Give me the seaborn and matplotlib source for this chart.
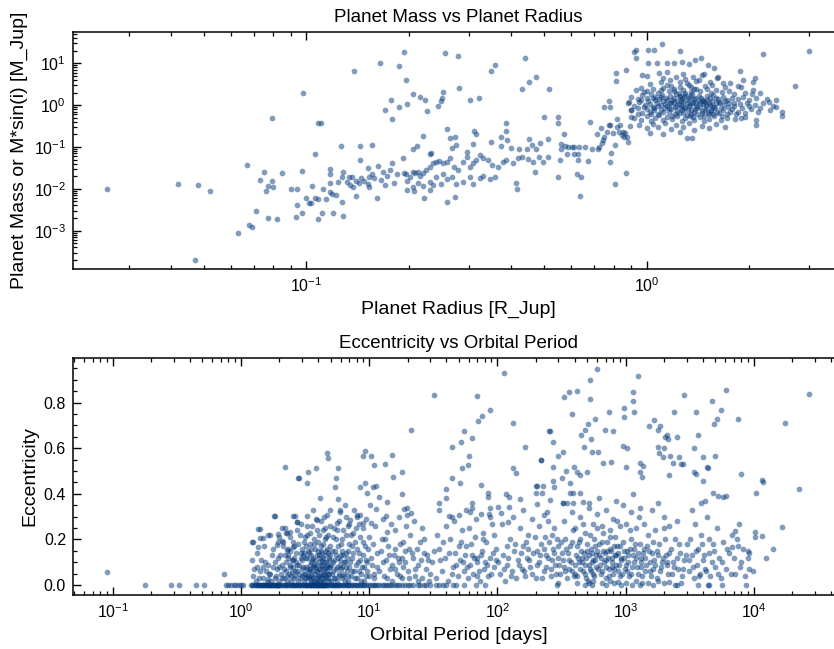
import numpy as np
import pandas as pd
import matplotlib
matplotlib.use("Agg")
import matplotlib.pyplot as plt
import seaborn as sns
from matplotlib.ticker import LogLocator, FixedLocator, MultipleLocator, NullFormatter, FormatStrFormatter

# ---------------- Data: planet radius [R_Jup] vs mass [M_Jup] ----------------
small_planets = [(0.026, 0.0098), (0.042, 0.0132), (0.048, 0.0125), (0.052, 0.0091), (0.047, 0.0002),
                 (0.063, 0.00087), (0.067, 0.037), (0.068, 0.00135), (0.069, 0.00123), (0.071, 0.003),
                 (0.073, 0.016), (0.075, 0.025), (0.076, 0.0087), (0.077, 0.0116), (0.077, 0.002),
                 (0.079, 0.49), (0.079, 0.0155), (0.080, 0.0112), (0.082, 0.0019), (0.085, 0.0245),
                 (0.090, 0.010), (0.093, 0.0021), (0.094, 0.0098), (0.094, 0.0042)]

dense_small_radius = [(0.194, 18.3), (0.255, 17.6), (0.279, 15.2), (0.438, 13.4), (0.164, 10), (0.187, 8.5),
                      (0.358, 9), (0.349, 6.5), (0.138, 6.7), (0.196, 3.9), (0.474, 4.6), (0.451, 3.6),
                      (0.43, 2.5), (0.28, 2.6), (0.515, 2.4), (0.252, 2.1), (0.098, 1.98), (0.205, 1.84),
                      (0.215, 1.54), (0.223, 1.35), (0.25, 1.46), (0.248, 1.26), (0.303, 1.3), (0.322, 1.46),
                      (0.177, 1.32), (0.244, 0.95), (0.187, 0.9), (0.197, 1.06), (0.17, 0.76), (0.226, 0.71),
                      (0.179, 0.48), (0.5, 0.52), (0.108, 0.367), (0.110, 0.367)]

neptunes_upper = [(0.258, 0.268), (0.386, 0.367), (0.387, 0.244), (0.311, 0.24), (0.314, 0.2), (0.372, 0.17),
                  (0.389, 0.146), (0.45, 0.152), (0.513, 0.155), (0.22, 0.182), (0.265, 0.163), (0.274, 0.17),
                  (0.126, 0.105), (0.144, 0.107), (0.156, 0.109), (0.106, 0.068), (0.205, 0.089), (0.212, 0.105),
                  (0.23, 0.068), (0.233, 0.07), (0.267, 0.093), (0.275, 0.113), (0.308, 0.115), (0.296, 0.074),
                  (0.348, 0.129), (0.372, 0.107), (0.398, 0.093), (0.42, 0.091), (0.444, 0.088), (0.472, 0.089),
                  (0.46, 0.109), (0.486, 0.122)]

superearths = [(0.097, 0.0265), (0.097, 0.0026), (0.1, 0.0059), (0.102, 0.0046), (0.106, 0.0059), (0.108, 0.0056),
               (0.114, 0.0056), (0.103, 0.0047), (0.111, 0.0026), (0.108, 0.0019), (0.120, 0.0027), (0.128, 0.0023),
               (0.104, 0.0115), (0.112, 0.0098), (0.117, 0.0082), (0.122, 0.0071), (0.119, 0.0075), (0.117, 0.0139),
               (0.117, 0.0225), (0.117, 0.0291), (0.124, 0.0142), (0.127, 0.0048), (0.132, 0.0147), (0.134, 0.0123),
               (0.137, 0.0108), (0.14, 0.0068), (0.133, 0.0194), (0.14, 0.0155), (0.143, 0.0139), (0.145, 0.018),
               (0.148, 0.0155), (0.152, 0.0129), (0.153, 0.0194), (0.153, 0.0112), (0.156, 0.0225), (0.161, 0.0059),
               (0.162, 0.0349), (0.158, 0.0177), (0.166, 0.0162), (0.17, 0.0123), (0.172, 0.0205), (0.176, 0.028),
               (0.178, 0.0405), (0.181, 0.0139), (0.184, 0.0225), (0.168, 0.0247), (0.152, 0.0308), (0.144, 0.0487),
               (0.136, 0.0194), (0.127, 0.0194), (0.128, 0.0255), (0.192, 0.0533)]

neptune_band = [(0.193, 0.0233), (0.196, 0.0225), (0.201, 0.0194), (0.206, 0.0255), (0.209, 0.0233), (0.213, 0.0255),
                (0.215, 0.0205), (0.220, 0.0233), (0.225, 0.028), (0.231, 0.0336), (0.236, 0.0404), (0.241, 0.0443),
                (0.246, 0.0468), (0.252, 0.0404), (0.258, 0.0443), (0.264, 0.0532), (0.271, 0.0324), (0.279, 0.028),
                (0.289, 0.0443), (0.297, 0.0583), (0.302, 0.0336), (0.309, 0.0404), (0.316, 0.0484), (0.323, 0.0637),
                (0.331, 0.0532), (0.342, 0.0484), (0.352, 0.0367), (0.366, 0.0324), (0.379, 0.0443), (0.387, 0.0484),
                (0.405, 0.0419), (0.419, 0.0532), (0.431, 0.0583), (0.449, 0.0513), (0.464, 0.0443), (0.483, 0.0564),
                (0.496, 0.0443), (0.514, 0.0583),
                (0.197, 0.0156), (0.206, 0.0112), (0.213, 0.0139), (0.220, 0.0117), (0.231, 0.0148), (0.241, 0.0194),
                (0.249, 0.0134), (0.258, 0.0168), (0.267, 0.0194), (0.276, 0.0127), (0.289, 0.0148), (0.302, 0.0194),
                (0.309, 0.0134), (0.323, 0.0177), (0.331, 0.0205), (0.346, 0.0168), (0.359, 0.0194), (0.197, 0.0093),
                (0.207, 0.009), (0.231, 0.0093), (0.222, 0.0059), (0.259, 0.0049), (0.274, 0.0064), (0.412, 0.0139),
                (0.415, 0.0097), (0.469, 0.0251), (0.252, 0.0221), (0.236, 0.0122)]

saturns = [(0.55, 0.51), (0.55, 0.37), (0.57, 0.21), (0.56, 0.117), (0.56, 0.089), (0.575, 0.105), (0.555, 0.0487),
           (0.55, 0.0194), (0.587, 0.101), (0.604, 0.098), (0.61, 0.101), (0.632, 0.101), (0.582, 0.0676),
           (0.612, 0.068), (0.628, 0.068), (0.63, 0.05), (0.67, 0.047), (0.659, 0.101), (0.689, 0.092), (0.682, 0.40),
           (0.625, 0.0229), (0.64, 0.0187), (0.635, 0.0067), (0.726, 0.101), (0.721, 0.088), (0.745, 0.146),
           (0.734, 0.279), (0.749, 0.175), (0.766, 0.231), (0.78, 0.34), (0.773, 0.329), (0.749, 0.92), (0.78, 0.89),
           (0.775, 1.27), (0.787, 0.073), (0.78, 0.044), (0.805, 0.111), (0.807, 0.0127), (0.82, 0.48), (0.834, 0.334),
           (0.849, 0.231), (0.863, 0.211), (0.873, 0.175), (0.883, 0.133), (0.893, 0.316), (0.901, 0.51), (0.9, 0.76),
           (0.887, 1.2), (0.869, 0.024), (0.855, 0.17), (0.845, 0.193), (0.819, 0.294), (0.797, 0.219), (0.83, 0.231),
           (0.713, 0.204), (0.737, 0.122)]

massive_jupiters = [(1.11, 29), (1.01, 20.8), (1.05, 20.8), (0.93, 20.8), (0.92, 19), (1.25, 19.7), (3.0, 19.4),
                    (2.2, 16.4), (0.93, 13.2), (1.01, 10.3), (1.07, 10.3), (1.15, 10), (1.2, 10), (1.27, 10.9),
                    (1.33, 9.6), (1.39, 12), (1.44, 13.2), (1.51, 9.1), (1.58, 7.6), (0.87, 6.9), (0.81, 5.8),
                    (0.81, 3.7), (0.97, 5.2), (1.0, 5.0), (1.09, 5.8), (1.15, 6.3), (1.12, 4.4), (1.17, 4.0),
                    (1.22, 4.8), (1.28, 5.5), (1.31, 3.3), (1.37, 4.8), (1.42, 4.0), (1.47, 5.5), (1.53, 3.6),
                    (1.61, 4.4), (1.68, 3.4), (1.76, 3.3), (1.88, 6.7), (1.92, 4.0), (2.05, 3.6), (2.08, 4.4),
                    (1.89, 2.75), (2.04, 1.9), (2.73, 2.9), (2.09, 0.33), (1.89, 0.5)]

hot_jupiters = [(1.02, 3.2), (1.10, 3.6), (1.18, 2.9), (1.25, 3.5), (1.33, 3.0), (1.40, 3.8), (1.48, 2.8), (1.56, 3.1),
                (1.70, 2.7), (1.85, 2.9), (0.96, 2.6), (1.30, 4.2), (1.62, 4.6), (1.45, 5.2),
                (0.93, 2.3), (0.98, 2.1), (1.04, 2.4), (1.08, 2.0), (1.12, 2.6), (1.16, 2.2), (1.20, 2.5), (1.24, 2.0),
                (1.28, 2.3), (1.35, 2.1), (1.38, 2.5), (1.43, 2.2), (1.50, 2.4), (1.55, 2.0), (1.60, 2.3), (1.66, 2.1),
                (1.75, 2.2), (1.80, 1.9), (1.95, 2.0), (2.05, 2.3), (2.15, 2.0),
                (0.90, 1.6), (0.94, 1.4), (0.97, 1.8), (1.00, 1.5), (1.03, 1.9), (1.06, 1.6), (1.09, 1.4), (1.11, 1.8),
                (1.14, 1.5), (1.17, 1.7), (1.19, 1.35), (1.22, 1.9), (1.25, 1.55), (1.27, 1.4), (1.30, 1.75),
                (1.33, 1.5), (1.36, 1.85), (1.39, 1.45), (1.42, 1.65), (1.46, 1.35), (1.50, 1.7), (1.53, 1.5),
                (1.57, 1.8), (1.62, 1.4), (1.68, 1.6), (1.72, 1.35), (1.78, 1.5), (1.85, 1.4), (1.92, 1.6), (2.0, 1.3),
                (2.1, 1.5), (2.25, 1.4), (2.4, 1.3),
                (0.88, 1.1), (0.92, 0.95), (0.95, 1.2), (0.99, 1.0), (1.01, 1.25), (1.04, 0.92), (1.07, 1.15),
                (1.10, 1.0), (1.12, 1.28), (1.15, 0.95), (1.17, 1.1), (1.20, 1.2), (1.22, 0.98), (1.24, 1.05),
                (1.26, 1.25), (1.29, 0.93), (1.31, 1.12), (1.34, 1.0), (1.37, 1.2), (1.40, 0.96), (1.43, 1.1),
                (1.46, 1.25), (1.49, 1.0), (1.52, 1.15), (1.56, 0.95), (1.60, 1.1), (1.64, 1.2), (1.69, 1.0),
                (1.74, 1.12), (1.80, 0.95), (1.88, 1.05), (1.97, 1.15), (2.08, 1.0), (2.2, 1.1), (2.35, 0.95),
                (0.90, 0.75), (0.94, 0.85), (0.97, 0.65), (1.00, 0.8), (1.02, 0.7), (1.05, 0.88), (1.08, 0.62),
                (1.10, 0.75), (1.13, 0.85), (1.16, 0.68), (1.18, 0.8), (1.21, 0.6), (1.23, 0.72), (1.26, 0.85),
                (1.28, 0.65), (1.32, 0.78), (1.35, 0.62), (1.38, 0.7), (1.41, 0.85), (1.45, 0.66), (1.48, 0.78),
                (1.52, 0.6), (1.55, 0.72), (1.59, 0.85), (1.63, 0.66), (1.67, 0.76), (1.72, 0.62), (1.78, 0.8),
                (1.86, 0.7), (1.94, 0.65), (2.02, 0.8), (2.12, 0.7), (2.3, 0.75), (2.5, 0.68),
                (0.92, 0.5), (0.96, 0.45), (1.00, 0.55), (1.03, 0.42), (1.06, 0.5), (1.09, 0.58), (1.12, 0.44),
                (1.15, 0.52), (1.19, 0.47), (1.23, 0.56), (1.27, 0.43), (1.30, 0.5), (1.34, 0.55), (1.38, 0.45),
                (1.43, 0.52), (1.47, 0.42), (1.52, 0.48), (1.58, 0.55), (1.65, 0.45), (1.72, 0.5), (1.82, 0.47),
                (1.95, 0.52), (2.1, 0.45), (2.5, 0.55),
                (0.95, 0.33), (1.00, 0.28), (1.04, 0.36), (1.08, 0.3), (1.13, 0.38), (1.18, 0.27), (1.22, 0.34),
                (1.28, 0.3), (1.33, 0.37), (1.38, 0.25), (1.45, 0.32), (1.52, 0.28), (1.60, 0.35), (1.70, 0.3),
                (1.02, 0.22), (1.12, 0.2), (1.25, 0.23), (1.31, 0.16), (1.36, 0.166)]

hot_jupiter_core = [(1.06, 1.3), (1.08, 0.95), (1.1, 1.6), (1.12, 0.7), (1.13, 1.05), (1.15, 1.35), (1.16, 0.85),
                    (1.18, 1.15), (1.19, 0.55), (1.2, 1.45), (1.21, 0.9), (1.23, 1.25), (1.24, 0.65), (1.25, 1.7),
                    (1.26, 1.0), (1.27, 0.78), (1.28, 1.2), (1.29, 1.55), (1.3, 0.88), (1.31, 0.58), (1.32, 1.3),
                    (1.33, 0.95), (1.34, 1.65), (1.35, 0.75), (1.36, 1.1), (1.37, 0.52), (1.38, 1.4), (1.39, 0.82),
                    (1.4, 1.15), (1.41, 0.62), (1.42, 1.28), (1.43, 0.9), (1.44, 1.5), (1.45, 0.72), (1.46, 1.05),
                    (1.47, 0.56), (1.48, 1.2), (1.49, 0.85), (1.5, 1.35), (1.51, 0.65), (1.53, 1.0), (1.54, 0.78),
                    (1.56, 1.25), (1.57, 0.6), (1.58, 0.92), (1.6, 1.45), (1.61, 0.7), (1.63, 1.1), (1.65, 0.85),
                    (1.66, 0.55), (1.7, 1.25), (1.73, 0.9), (1.76, 0.7), (1.8, 1.15), (1.83, 0.6), (1.9, 0.85),
                    (2.0, 0.95), (2.15, 0.85), (2.28, 1.2), (2.4, 0.9), (1.02, 1.05), (1.03, 0.6), (1.04, 1.45),
                    (1.05, 0.78), (0.98, 0.9), (0.96, 1.35), (0.94, 0.62), (1.0, 2.2), (1.1, 2.3), (1.2, 2.2),
                    (1.3, 2.0), (1.4, 2.4), (1.25, 2.7), (1.15, 3.1), (1.35, 2.75)]

# ---------------- Data: orbital period [days] vs eccentricity ----------------
circular_periods = [0.18, 0.283, 0.328, 0.45, 0.52, 0.77, 0.8, 0.84, 0.88, 0.92, 0.96, 1.0, 1.04, 1.2, 1.25, 1.3,
                    1.35, 1.4, 1.45, 1.5, 1.55, 1.6, 1.65, 1.7, 1.75, 1.8, 1.85, 1.9, 1.95, 2.0, 2.1, 2.2, 2.3, 2.4,
                    2.5, 2.6, 2.7, 2.8, 2.9, 3.0, 3.1, 3.2, 3.3, 3.4, 3.5, 3.6, 3.7, 3.8, 3.9, 4.0, 4.1, 4.2, 4.3,
                    4.4, 4.5, 4.6, 4.8, 5.0, 5.2, 5.4, 5.6, 5.8, 6.1, 6.4, 6.7, 7.0, 7.4, 7.8, 8.2, 8.7, 9.2, 9.8,
                    10.5, 11.2, 12, 13, 14, 15, 16.5, 18, 20, 22, 25, 28, 33, 38, 45, 55, 68, 80, 290, 544, 1116,
                    1295, 2430, 3690, 4365, 4450, 5620, 8690,
                    1.23, 1.28, 1.33, 1.38, 1.43, 1.48, 1.53, 1.58, 1.63, 1.68, 1.73, 1.78, 1.83, 1.88, 1.93, 1.98,
                    2.05, 2.15, 2.25, 2.35, 2.45, 2.55, 2.65, 2.75, 2.85, 2.95, 3.05, 3.15, 3.25, 3.35, 3.45, 3.55,
                    3.65, 3.75, 3.85, 3.95, 4.05, 4.15, 4.25, 4.35, 4.45, 4.55, 4.7, 4.9, 5.1, 5.3, 5.5, 5.7, 5.95,
                    6.25, 6.55, 6.85, 7.2, 7.6, 8.0, 8.5, 9.0, 9.5, 10.1, 10.9, 11.6, 12.5, 13.5, 14.5, 16, 17, 19,
                    21, 24, 27, 30, 35, 40, 48]

short_period = [(0.091, 0.058), (0.736, 0.048), (1.22, 0.19), (1.22, 0.11), (1.36, 0.244), (1.42, 0.208),
                (1.33, 0.079), (1.49, 0.079), (1.64, 0.219), (1.65, 0.05), (1.79, 0.08), (1.64, 0.028), (1.82, 0.304),
                (2.08, 0.249), (2.24, 0.227), (2.3, 0.154), (2.34, 0.132), (2.41, 0.088), (2.49, 0.058), (2.56, 0.11),
                (2.64, 0.303), (2.72, 0.278), (2.8, 0.468), (2.56, 0.168), (1.9, 0.176), (1.99, 0.212), (2.11, 0.194),
                (2.2, 0.516), (1.25, 0.04), (1.3, 0.02), (1.4, 0.06), (1.5, 0.03), (1.55, 0.1), (1.6, 0.015),
                (1.7, 0.05), (1.75, 0.13), (1.85, 0.03), (1.9, 0.07), (1.95, 0.12), (2.0, 0.02), (2.05, 0.05),
                (2.1, 0.09), (2.15, 0.03), (2.2, 0.13), (2.25, 0.06), (2.3, 0.02), (2.35, 0.16), (2.4, 0.08),
                (2.45, 0.04), (2.5, 0.11), (2.55, 0.19), (2.6, 0.03), (2.65, 0.06), (2.7, 0.14), (2.75, 0.09),
                (2.8, 0.02), (2.85, 0.05), (2.9, 0.22), (2.95, 0.12), (3.0, 0.04), (2.2, 0.25), (2.4, 0.21),
                (2.6, 0.17), (2.75, 0.24), (1.41, 0.244), (1.25, 0.19), (1.36, 0.168), (1.49, 0.205), (1.68, 0.219),
                (1.95, 0.222), (2.14, 0.19), (2.27, 0.229), (2.41, 0.234),
                (1.27, 0.07), (1.33, 0.14), (1.38, 0.03), (1.44, 0.11), (1.52, 0.17), (1.58, 0.06), (1.63, 0.09),
                (1.72, 0.02), (1.78, 0.16), (1.83, 0.1), (1.88, 0.04), (1.93, 0.19), (1.98, 0.08), (2.03, 0.13),
                (2.08, 0.03), (2.13, 0.17), (2.18, 0.07), (2.23, 0.1), (2.28, 0.04), (2.33, 0.12), (2.38, 0.05),
                (2.43, 0.15), (2.48, 0.02), (2.53, 0.08), (2.58, 0.12), (2.63, 0.04), (2.68, 0.1), (2.73, 0.06),
                (2.78, 0.18), (2.83, 0.09), (2.88, 0.03), (2.93, 0.14), (2.98, 0.07)]

warm_cloud = [(3.05, 0.08), (3.1, 0.02), (3.15, 0.05), (3.2, 0.12), (3.25, 0.03), (3.3, 0.07), (3.35, 0.15),
              (3.4, 0.04), (3.45, 0.09), (3.5, 0.02), (3.55, 0.06), (3.6, 0.11), (3.65, 0.03), (3.7, 0.18),
              (3.75, 0.05), (3.8, 0.08), (3.85, 0.02), (3.9, 0.13), (3.95, 0.06), (4.0, 0.04), (4.05, 0.1),
              (4.1, 0.02), (4.15, 0.07), (4.2, 0.15), (4.25, 0.03), (4.3, 0.09), (4.35, 0.05), (4.4, 0.12),
              (4.45, 0.02), (4.5, 0.07), (4.55, 0.2), (4.6, 0.04), (4.65, 0.1), (4.7, 0.06), (4.75, 0.03),
              (4.8, 0.14), (4.85, 0.08), (4.9, 0.05), (4.95, 0.17), (5.0, 0.02), (3.3, 0.22), (3.6, 0.26),
              (3.9, 0.24), (4.2, 0.28), (4.5, 0.25), (4.8, 0.22), (3.4, 0.14), (3.8, 0.16), (4.0, 0.19), (4.4, 0.18),
              (3.2, 0.17), (3.5, 0.1), (3.7, 0.09), (4.1, 0.13), (4.3, 0.11), (4.6, 0.15), (4.9, 0.11), (3.0, 0.16),
              (3.1, 0.19), (3.45, 0.03), (3.55, 0.01), (3.95, 0.01), (4.15, 0.015), (4.35, 0.01),
              (5.1, 0.05), (5.2, 0.1), (5.3, 0.03), (5.4, 0.15), (5.5, 0.07), (5.6, 0.02), (5.7, 0.12), (5.8, 0.05),
              (5.9, 0.09), (6.0, 0.18), (6.1, 0.03), (6.2, 0.08), (6.3, 0.13), (6.4, 0.04), (6.5, 0.1), (6.6, 0.22),
              (6.7, 0.06), (6.8, 0.02), (6.9, 0.15), (7.0, 0.08), (7.2, 0.04), (7.4, 0.12), (7.6, 0.06),
              (7.8, 0.19), (8.0, 0.03), (8.2, 0.1), (8.4, 0.14), (8.6, 0.05), (8.8, 0.08), (9.0, 0.25), (9.2, 0.02),
              (9.4, 0.11), (9.6, 0.06), (9.8, 0.16), (10.0, 0.04), (5.3, 0.25), (5.8, 0.28), (6.3, 0.24),
              (7.0, 0.27), (7.5, 0.23), (8.0, 0.3), (8.5, 0.21), (5.5, 0.2), (6.0, 0.13), (7.3, 0.17), (8.9, 0.19),
              (3.02, 0.11), (3.08, 0.05), (3.13, 0.14), (3.18, 0.03), (3.23, 0.08), (3.28, 0.12), (3.33, 0.04),
              (3.38, 0.06), (3.43, 0.18), (3.48, 0.07), (3.53, 0.13), (3.58, 0.04), (3.63, 0.08), (3.68, 0.12),
              (3.73, 0.02), (3.78, 0.11), (3.83, 0.06), (3.88, 0.09), (3.93, 0.03), (3.98, 0.15), (4.03, 0.07),
              (4.08, 0.04), (4.13, 0.12), (4.18, 0.05), (4.23, 0.09), (4.28, 0.14), (4.33, 0.03), (4.38, 0.07),
              (4.43, 0.1), (4.48, 0.05), (4.53, 0.13), (4.58, 0.08), (4.63, 0.03), (4.68, 0.16), (4.73, 0.09),
              (4.78, 0.05), (4.83, 0.12), (4.88, 0.02), (4.93, 0.08), (4.98, 0.13),
              (3.15, 0.21), (3.45, 0.23), (3.75, 0.2), (4.05, 0.22), (4.35, 0.24), (4.65, 0.21), (4.95, 0.26),
              (3.25, 0.26), (3.85, 0.29), (4.45, 0.3), (3.55, 0.16), (4.25, 0.17), (3.05, 0.13), (2.95, 0.27),
              (5.05, 0.09), (5.15, 0.15), (5.25, 0.06), (5.35, 0.11), (5.45, 0.03), (5.55, 0.13), (5.65, 0.08),
              (5.75, 0.17), (5.85, 0.04), (5.95, 0.11), (6.05, 0.07), (6.15, 0.15), (6.25, 0.05), (6.35, 0.1),
              (6.45, 0.02), (6.55, 0.14), (6.65, 0.08), (6.75, 0.12), (6.85, 0.04), (6.95, 0.18), (7.1, 0.1),
              (7.3, 0.06), (7.5, 0.14), (7.7, 0.03), (7.9, 0.09), (8.1, 0.16), (8.3, 0.06), (8.5, 0.11), (8.7, 0.02),
              (8.9, 0.13), (9.1, 0.08), (9.3, 0.17), (9.5, 0.04), (9.7, 0.1), (9.9, 0.21),
              (5.2, 0.21), (5.6, 0.24), (6.2, 0.2), (6.8, 0.26), (7.2, 0.22), (7.9, 0.25), (8.3, 0.27), (9.5, 0.29),
              (5.9, 0.32), (6.5, 0.35), (7.6, 0.33)]

mid_period = [(10.5, 0.09), (11, 0.03), (11.5, 0.14), (12, 0.06), (12.5, 0.2), (13, 0.04), (13.5, 0.11), (14, 0.17),
              (14.5, 0.07), (15, 0.02), (15.5, 0.13), (16, 0.24), (16.5, 0.05), (17, 0.1), (17.5, 0.18), (18, 0.03),
              (18.5, 0.08), (19, 0.15), (20, 0.06), (21, 0.22), (22, 0.12), (23, 0.04), (24, 0.09), (25, 0.19),
              (26, 0.03), (27, 0.14), (28, 0.07), (29, 0.11), (30, 0.05), (11.2, 0.26), (12.8, 0.29), (14.8, 0.27),
              (17, 0.3), (19.5, 0.26), (22.5, 0.28), (26, 0.25), (10.8, 0.18), (13.2, 0.2), (15.8, 0.07),
              (18.2, 0.12), (20.5, 0.16), (24, 0.02),
              (31, 0.1), (33, 0.03), (35, 0.16), (37, 0.06), (39, 0.12), (41, 0.02), (43, 0.2), (45, 0.08),
              (47, 0.14), (49, 0.04), (51, 0.11), (53, 0.24), (55, 0.06), (57, 0.17), (59, 0.03), (61, 0.09),
              (63, 0.13), (65, 0.05), (67, 0.21), (70, 0.1), (73, 0.02), (76, 0.15), (79, 0.07), (82, 0.19),
              (85, 0.04), (88, 0.12), (91, 0.27), (94, 0.08), (97, 0.16), (34, 0.22), (40, 0.26), (46, 0.28),
              (52, 0.19), (60, 0.25), (68, 0.29), (78, 0.23), (86, 0.31), (95, 0.22), (48, 0.09), (72, 0.06),
              (56, 0.13), (80, 0.1), (70, 0.117),
              (10.3, 0.12), (10.9, 0.05), (11.6, 0.08), (12.3, 0.15), (12.9, 0.1), (13.7, 0.03), (14.3, 0.13),
              (15.2, 0.09), (15.9, 0.16), (16.7, 0.12), (17.4, 0.04), (18.3, 0.19), (19.2, 0.1), (20.3, 0.03),
              (21.5, 0.14), (22.8, 0.07), (23.5, 0.16), (25.2, 0.11), (26.8, 0.2), (28.5, 0.13), (29.5, 0.02),
              (32, 0.15), (36, 0.11), (38, 0.19), (42, 0.14), (44, 0.05), (50, 0.17), (54, 0.1), (58, 0.08),
              (62, 0.18), (66, 0.12), (69, 0.04), (74, 0.13), (77, 0.2), (83, 0.09), (89, 0.05), (92, 0.14),
              (98, 0.11), (44, 0.3), (57, 0.33), (64, 0.36), (75, 0.31), (88, 0.34)]

long_period = [(105, 0.05), (110, 0.13), (115, 0.02), (120, 0.09), (125, 0.2), (130, 0.06), (135, 0.15), (140, 0.03),
               (145, 0.11), (150, 0.25), (155, 0.07), (160, 0.17), (165, 0.04), (170, 0.12), (175, 0.22), (180, 0.08),
               (190, 0.14), (200, 0.03), (210, 0.1), (220, 0.18), (230, 0.06), (240, 0.13), (250, 0.28), (260, 0.04),
               (270, 0.16), (280, 0.09), (290, 0.2), (300, 0.12), (108, 0.27), (132, 0.3), (158, 0.33), (185, 0.29),
               (212, 0.26), (245, 0.32), (275, 0.25), (118, 0.17), (168, 0.19), (205, 0.15), (235, 0.21), (265, 0.11),
               (310, 0.05), (320, 0.14), (330, 0.08), (340, 0.2), (350, 0.03), (360, 0.11), (370, 0.17), (380, 0.06),
               (390, 0.24), (400, 0.09), (410, 0.13), (420, 0.04), (430, 0.19), (440, 0.07), (450, 0.15), (460, 0.1),
               (470, 0.27), (480, 0.05), (490, 0.12), (500, 0.18), (510, 0.02), (520, 0.09), (530, 0.22), (540, 0.06),
               (550, 0.14), (560, 0.11), (570, 0.04), (580, 0.17), (590, 0.08), (600, 0.25), (620, 0.13), (640, 0.05),
               (660, 0.19), (680, 0.1), (700, 0.03), (720, 0.15), (740, 0.07), (760, 0.21), (780, 0.12), (800, 0.05),
               (820, 0.17), (840, 0.09), (860, 0.28), (880, 0.14), (900, 0.04), (930, 0.11), (960, 0.19), (990, 0.07),
               (1020, 0.15), (1050, 0.1), (1080, 0.24), (1110, 0.05), (1150, 0.13), (1190, 0.18), (1230, 0.08),
               (1270, 0.3), (1310, 0.12), (1350, 0.04), (1400, 0.16), (1450, 0.09), (1500, 0.22), (1560, 0.06),
               (1620, 0.14), (1680, 0.11), (1750, 0.03), (1820, 0.18), (1900, 0.08), (1980, 0.25), (2060, 0.13),
               (2150, 0.05), (2250, 0.16), (2350, 0.1), (2450, 0.2), (2550, 0.07), (2650, 0.14), (2760, 0.04),
               (2880, 0.11), (3000, 0.18), (330, 0.28), (380, 0.32), (440, 0.3), (520, 0.34), (600, 0.31), (700, 0.33),
               (800, 0.29), (950, 0.35), (1100, 0.32), (1300, 0.34), (1600, 0.33), (2000, 0.3), (2500, 0.28),
               (345, 0.16), (395, 0.04), (455, 0.12), (505, 0.15), (545, 0.1), (585, 0.13), (630, 0.09), (670, 0.15),
               (710, 0.11), (750, 0.16), (790, 0.08), (830, 0.13), (870, 0.06), (910, 0.17), (970, 0.12), (1030, 0.06),
               (1090, 0.16), (1170, 0.1), (1250, 0.14), (1330, 0.08), (1420, 0.12), (1530, 0.15), (1650, 0.07),
               (1780, 0.13), (1920, 0.1), (2100, 0.09), (2300, 0.05), (2500, 0.12), (420, 0.01), (560, 0.02),
               (650, 0.01), (750, 0.02), (870, 0.015), (1000, 0.01), (1200, 0.02), (1500, 0.01), (1800, 0.02),
               (2200, 0.015), (2700, 0.01),
               (102, 0.1), (112, 0.07), (122, 0.12), (128, 0.04), (138, 0.18), (148, 0.09), (152, 0.14), (162, 0.06),
               (172, 0.16), (178, 0.11), (188, 0.05), (195, 0.21), (203, 0.09), (215, 0.13), (225, 0.03), (232, 0.16),
               (238, 0.08), (248, 0.12), (255, 0.19), (262, 0.07), (268, 0.22), (278, 0.14), (285, 0.05), (295, 0.17),
               (305, 0.09), (315, 0.19), (325, 0.11), (335, 0.06), (355, 0.14), (365, 0.07), (375, 0.1), (385, 0.19),
               (405, 0.05), (415, 0.17), (425, 0.12), (435, 0.1), (445, 0.2), (465, 0.06), (475, 0.14), (485, 0.09),
               (495, 0.03), (515, 0.13), (525, 0.07), (535, 0.16), (555, 0.05), (565, 0.2), (575, 0.11), (595, 0.15),
               (610, 0.07), (625, 0.18), (645, 0.12), (655, 0.06), (665, 0.23), (690, 0.14), (705, 0.08), (715, 0.19),
               (730, 0.12), (745, 0.04), (770, 0.15), (785, 0.1), (810, 0.07), (825, 0.21), (850, 0.13), (865, 0.17),
               (890, 0.09), (915, 0.12), (945, 0.05), (975, 0.15), (1005, 0.09), (1040, 0.13), (1070, 0.04),
               (1100, 0.2), (1130, 0.08), (1160, 0.16), (1210, 0.12), (1240, 0.05), (1290, 0.18), (1320, 0.1),
               (1380, 0.14), (1430, 0.06), (1480, 0.17), (1540, 0.1), (1590, 0.04), (1640, 0.19), (1700, 0.09),
               (1760, 0.15), (1850, 0.06), (1950, 0.12), (2030, 0.2), (2120, 0.1), (2200, 0.14), (2400, 0.08),
               (2600, 0.18), (2800, 0.07), (2950, 0.13), (400, 0.25), (480, 0.23), (560, 0.27), (650, 0.26),
               (750, 0.24), (900, 0.26), (1000, 0.27), (1200, 0.25), (1400, 0.27), (1700, 0.24), (2200, 0.26),
               (350, 0.36), (620, 0.38), (850, 0.37), (1150, 0.4), (1800, 0.36), (300, 0.01), (480, 0.0), (520, 0.01),
               (700, 0.0), (820, 0.01), (930, 0.0), (1350, 0.01), (1650, 0.0), (2000, 0.01), (2500, 0.0)]

very_long_period = [(3100, 0.06), (3200, 0.2), (3300, 0.13), (3400, 0.03), (3500, 0.27), (3600, 0.09), (3700, 0.16),
                    (3800, 0.05), (3900, 0.22), (4000, 0.11), (4150, 0.07), (4300, 0.3), (4450, 0.14), (4600, 0.04),
                    (4800, 0.18), (5000, 0.08), (5200, 0.25), (5400, 0.12), (5600, 0.03), (5800, 0.19), (6100, 0.07),
                    (6400, 0.14), (6800, 0.22), (7200, 0.05), (7600, 0.17), (8000, 0.1), (8600, 0.04), (9000, 0.12),
                    (9200, 0.07), (4700, 0.1), (3300, 0.33), (3900, 0.36), (7800, 0.08), (8970, 0.15), (9180, 0.139),
                    (14050, 0.157), (16700, 0.256), (10280, 0.234), (10280, 0.209), (11650, 0.216), (7710, 0.268),
                    (7130, 0.237), (6720, 0.168), (3150, 0.11), (3350, 0.08), (3550, 0.15), (3750, 0.04), (3950, 0.18),
                    (4100, 0.13), (4250, 0.06), (4500, 0.2), (4900, 0.15), (5300, 0.05), (5700, 0.1), (6200, 0.16),
                    (6600, 0.05), (7000, 0.12), (7400, 0.2), (8300, 0.16), (9800, 0.06), (12500, 0.12)]

eccentric = [(112, 0.929), (31.8, 0.835), (70, 0.831), (87, 0.769), (76, 0.741), (70.6, 0.718), (132, 0.709),
             (21.3, 0.679), (55, 0.674), (63, 0.644), (52, 0.626), (44, 0.604), (165, 0.607), (254, 0.677),
             (60, 0.567), (219, 0.548), (59, 0.527), (53, 0.512), (133, 0.512), (141, 0.493), (44.5, 0.468),
             (51, 0.449), (39.7, 0.421), (74.5, 0.439), (85, 0.402), (84, 0.387), (117, 0.398), (124, 0.387),
             (150, 0.377), (205, 0.434), (222, 0.402), (231, 0.307), (203, 0.355), (102, 0.341), (87.5, 0.3),
             (106, 0.315), (124, 0.344), (122, 0.278), (34.8, 0.361), (34.8, 0.329), (39.7, 0.38), (42.2, 0.303),
             (50.4, 0.308), (61, 0.322), (63.7, 0.337), (18.2, 0.398), (19.6, 0.337), (21.2, 0.315), (18.6, 0.332),
             (19.6, 0.307), (15, 0.572), (13.3, 0.53), (11, 0.527), (10.3, 0.566), (9, 0.566), (9.3, 0.589),
             (15.3, 0.475), (17.9, 0.497), (4.69, 0.581), (4.78, 0.556), (5.68, 0.515), (3.87, 0.512), (3.35, 0.497),
             (2.83, 0.468), (3.29, 0.449), (5.5, 0.468), (5.44, 0.431), (5.68, 0.376), (8.5, 0.429), (9.3, 0.446),
             (9.6, 0.402), (10.8, 0.431), (11.4, 0.434), (10.1, 0.351), (12, 0.387), (13.7, 0.365), (13.5, 0.303),
             (13.7, 0.234), (11.3, 0.332), (10.4, 0.271), (9, 0.271), (8.5, 0.307), (4.13, 0.38), (3.66, 0.329),
             (4.94, 0.329), (5.92, 0.329), (6.59, 0.3), (8.07, 0.307), (2.56, 0.304), (1.84, 0.304), (2.72, 0.278),
             (3.25, 0.304), (4.66, 0.307), (3.89, 0.285), (5.57, 0.273), (7.08, 0.285),
             (601, 0.948), (531, 0.9), (1256, 0.917), (6070, 0.857), (27100, 0.838), (333, 0.826), (364, 0.848),
             (418, 0.853), (528, 0.816), (1148, 0.848), (1135, 0.807), (2857, 0.834), (4700, 0.807), (5550, 0.768),
             (5140, 0.73), (4860, 0.706), (7530, 0.727), (17500, 0.712), (384, 0.749), (743, 0.758), (972, 0.775),
             (972, 0.736), (1170, 0.758), (2390, 0.758), (3520, 0.76), (259, 0.676), (270, 0.627), (219, 0.548),
             (577, 0.727), (506, 0.706), (485, 0.68), (447, 0.66), (474, 0.607), (535, 0.639), (691, 0.68),
             (797, 0.677), (774, 0.54), (662, 0.537), (544, 0.584), (606, 0.585), (949, 0.61), (1032, 0.6),
             (1002, 0.519), (1294, 0.537), (1374, 0.522), (1294, 0.497), (1336, 0.475), (1531, 0.698), (1675, 0.724),
             (1855, 0.698), (1790, 0.68), (2020, 0.651), (2130, 0.639), (1995, 0.6), (1810, 0.581), (1800, 0.607),
             (1970, 0.563), (2110, 0.658), (2520, 0.651), (2220, 0.566), (2190, 0.483), (2360, 0.534), (2610, 0.563),
             (2690, 0.53), (2790, 0.53), (3436, 0.6), (3672, 0.657), (3990, 0.563), (4295, 0.519), (4365, 0.512),
             (4036, 0.458), (4980, 0.566), (4140, 0.369), (3523, 0.487), (3420, 0.497), (4786, 0.402), (5290, 0.39),
             (5780, 0.387), (6070, 0.39), (7940, 0.487), (10350, 0.405), (11640, 0.461), (11860, 0.451),
             (22650, 0.42), (299, 0.567), (327, 0.585), (273, 0.519), (341, 0.5), (318, 0.468), (398, 0.519),
             (415, 0.497), (368, 0.449), (441, 0.483), (498, 0.497), (273, 0.456), (228, 0.434), (202, 0.434),
             (202, 0.402), (276, 0.431), (257, 0.373), (325, 0.361), (368, 0.402), (391, 0.402), (327, 0.358),
             (386, 0.358), (441, 0.402), (468, 0.365), (521, 0.361)]

# ---------------- Tables ----------------
mr = (small_planets + dense_small_radius + neptunes_upper + superearths + neptune_band + saturns
      + massive_jupiters + hot_jupiters + hot_jupiter_core)
mass_radius = pd.DataFrame(mr, columns=["radius", "mass"])
pe = ([(p, 0.0) for p in circular_periods] + short_period + warm_cloud + mid_period + long_period
      + very_long_period + eccentric)
period_ecc = pd.DataFrame(pe, columns=["period", "ecc"])

# ---------------- Style ----------------
sns.set_style("ticks")
plt.rcParams['font.family'] = ['Liberation Sans', 'DejaVu Sans']
plt.rcParams['mathtext.fontset'] = 'custom'
plt.rcParams['mathtext.rm'] = 'Liberation Sans'
plt.rcParams['mathtext.it'] = 'Liberation Sans:italic'
plt.rcParams['mathtext.bf'] = 'Liberation Sans:bold'
plt.rcParams['axes.linewidth'] = 1.1
plt.rcParams['text.color'] = 'black'
plt.rcParams['axes.labelcolor'] = 'black'
plt.rcParams['xtick.color'] = 'black'
plt.rcParams['ytick.color'] = 'black'
plt.rcParams['axes.edgecolor'] = 'black'

POINT_COLOR = "#05397a"

fig = plt.figure(figsize=(8.34, 6.49), dpi=100)
ax1 = fig.add_axes([0.0875, 0.585, 0.9245, 0.3656])
ax2 = fig.add_axes([0.0875, 0.0827, 0.9245, 0.3661])

sns.scatterplot(data=mass_radius, x="radius", y="mass", ax=ax1, color=POINT_COLOR,
                alpha=0.5, s=17, linewidth=0, legend=False)
sns.scatterplot(data=period_ecc, x="period", y="ecc", ax=ax2, color=POINT_COLOR,
                alpha=0.5, s=17, linewidth=0, legend=False)

ax1.set_xscale("log")
ax1.set_yscale("log")
ax1.set_xlim(0.0206, 3.8)
ax1.set_ylim(1.19e-4, 56)
ax2.set_xscale("log")
ax2.set_xlim(0.049, 50600)
ax2.set_ylim(-0.045, 0.997)

ax1.xaxis.set_major_locator(FixedLocator([0.1, 1.0]))
ax1.yaxis.set_major_locator(FixedLocator([1e-3, 1e-2, 1e-1, 1.0, 10.0]))
ax1.xaxis.set_minor_locator(LogLocator(base=10, subs=np.arange(2, 10), numticks=20))
ax1.yaxis.set_minor_locator(LogLocator(base=10, subs=np.arange(2, 10), numticks=20))
ax1.xaxis.set_minor_formatter(NullFormatter())
ax1.yaxis.set_minor_formatter(NullFormatter())

ax2.xaxis.set_major_locator(FixedLocator([0.1, 1.0, 10.0, 100.0, 1000.0, 10000.0]))
ax2.xaxis.set_minor_locator(LogLocator(base=10, subs=np.arange(2, 10), numticks=20))
ax2.xaxis.set_minor_formatter(NullFormatter())
ax2.yaxis.set_major_locator(FixedLocator([0.0, 0.2, 0.4, 0.6, 0.8]))
ax2.yaxis.set_minor_locator(MultipleLocator(0.05))
ax2.yaxis.set_major_formatter(FormatStrFormatter("%.1f"))

for ax in (ax1, ax2):
    ax.tick_params(which="both", direction="in", top=True, right=True, color="black",
                   labelcolor="black")
    ax.tick_params(which="major", length=5.5, width=1.0, labelsize=11.5, pad=5)
    ax.tick_params(which="minor", length=2.8, width=0.9)
    for sp in ax.spines.values():
        sp.set_color("black")
        sp.set_linewidth(1.1)

ax1.set_title("Planet Mass vs Planet Radius", fontsize=13.5, pad=7, color="black")
ax1.set_xlabel("Planet Radius [R_Jup]", fontsize=14, color="black")
ax1.set_ylabel("Planet Mass or M*sin(i) [M_Jup]", fontsize=14, labelpad=4, color="black")
ax2.set_title("Eccentricity vs Orbital Period", fontsize=13.5, pad=7, color="black")
ax2.set_xlabel("Orbital Period [days]", fontsize=14, color="black")
ax2.set_ylabel("Eccentricity", fontsize=14, color="black")

fig.savefig("out.png", dpi=100)
